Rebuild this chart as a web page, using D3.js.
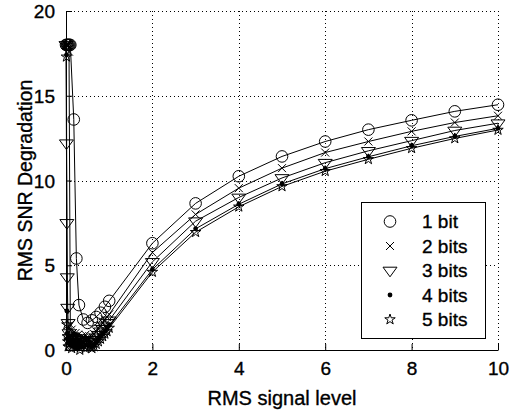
<!DOCTYPE html>
<html>
<head>
<meta charset="utf-8">
<script src="https://cdn.jsdelivr.net/npm/d3@7"></script>
<style>
  html, body { margin: 0; padding: 0; background: #fff; }
  svg { display: block; font-family: Arial, "Liberation Sans", Helvetica, sans-serif; }
  svg text { fill: #000; stroke: #000; stroke-width: 0.35px; }
</style>
</head>
<body>
<svg id="chart" width="511" height="415"></svg>
<script>
// ---------- data ----------
// 1 bit series has its own x sampling
const xValues1 = [0, 0.02, 0.04, 0.06, 0.08, 0.1, 0.18, 0.24, 0.3, 0.4, 0.5, 0.6, 0.7, 0.8, 0.9, 1,
  2, 3, 4, 5, 6, 7, 8, 9, 10];
const bits1 = [18, 18, 18, 18, 18, 18, 13.6, 5.4, 2.65, 1.8, 1.6, 1.75, 1.95, 2.2, 2.55, 2.9,
  6.3, 8.65, 10.25, 11.42, 12.3, 13.0, 13.55, 14.08, 14.47];

// 2..5 bit series share this x sampling
const xValues = [0, 0.01, 0.02, 0.03, 0.04, 0.05, 0.07, 0.1, 0.13, 0.16, 0.19, 0.22, 0.25, 0.28,
  0.32, 0.36, 0.4, 0.45, 0.5, 0.55, 0.6, 0.65, 0.7, 0.75, 0.8, 0.85, 0.9, 0.95, 1,
  2, 3, 4, 5, 6, 7, 8, 9, 10];
const bits2 = [18, 18, 18, 18, 18, 18, 17.6, 1.5, 1.2, 1.0, 0.8, 1.0, 0.7, 0.9,
  0.6, 0.8, 0.7, 0.9, 0.7, 0.8, 0.8, 0.95, 1.1, 1.3, 1.45, 1.6, 1.8, 1.95, 2.1,
  5.75, 8.0, 9.55, 10.73, 11.65, 12.3, 12.9, 13.42, 13.82];
const bits3 = [18, 12.2, 7.5, 4.3, 2.5, 1.6, 1.0, 0.7, 0.5, 0.8, 0.4, 0.6, 0.3, 0.7,
  0.5, 0.4, 0.6, 0.3, 0.5, 0.4, 0.5, 0.6, 0.75, 0.9, 1.1, 1.25, 1.4, 1.6, 1.75,
  5.2, 7.6, 9.0, 10.15, 11.05, 11.75, 12.35, 12.95, 13.38];
const bits4 = [18, 17.4, 2.3, 1.0, 0.7, 0.4, 0.8, 0.3, 0.6, 0.2, 0.5, 0.9, 0.3, 0.1,
  0.6, 0.4, 0.2, 0.7, 0.3, 0.5, 0.2, 0.3, 0.45, 0.6, 0.8, 0.95, 1.1, 1.3, 1.45,
  4.75, 7.15, 8.6, 9.8, 10.7, 11.4, 12.05, 12.6, 13.08];
const bits5 = [18, 17.3, 1.5, 0.8, 0.5, 0.2, 0.6, 0.9, 0.1, 0.4, 0.7, 0.2, 0.5, 0.3,
  0.0, 0.6, 0.3, 0.1, 0.4, 0.2, 0.1, 0.2, 0.35, 0.5, 0.65, 0.8, 0.95, 1.1, 1.3,
  4.6, 6.95, 8.45, 9.65, 10.55, 11.25, 11.9, 12.48, 12.98];

const seriesNames = ["1 bit", "2 bits", "3 bits", "4 bits", "5 bits"];
const seriesX = [xValues1, xValues, xValues, xValues, xValues];
const seriesValues = [bits1, bits2, bits3, bits4, bits5];
const markerKinds = ["circle", "x", "triangleDown", "point", "pentagram"];

const xTicks = [0, 2, 4, 6, 8, 10];
const yTicks = [0, 5, 10, 15, 20];
const xLabel = "RMS signal level";
const yLabel = "RMS SNR Degradation";

// ---------- layout ----------
const svg = d3.select("#chart");
const plotL = 66, plotR = 498, plotT = 11, plotB = 350;
const x = d3.scaleLinear().domain([0, 10]).range([plotL, plotR]);
const y = d3.scaleLinear().domain([0, 20]).range([plotB, plotT]);
const FONT = 19;

// grid (dotted)
const grid = svg.append("g").attr("stroke", "#000").attr("stroke-width", 1)
  .attr("stroke-dasharray", "1,3").attr("shape-rendering", "crispEdges");
xTicks.filter(t => t > 0).forEach(t => {
  grid.append("line").attr("x1", Math.round(x(t)) + 0.5).attr("x2", Math.round(x(t)) + 0.5)
    .attr("y1", y(20)).attr("y2", y(0));
});
yTicks.filter(t => t > 0).forEach(t => {
  grid.append("line").attr("y1", Math.round(y(t)) + 0.5).attr("y2", Math.round(y(t)) + 0.5)
    .attr("x1", x(0)).attr("x2", x(10));
});

// axes
const xAxis = d3.axisBottom(x).tickValues(xTicks).tickFormat(d3.format("d"))
  .tickSizeInner(-6).tickSizeOuter(0).tickPadding(12);
const yAxis = d3.axisLeft(y).tickValues(yTicks).tickFormat(d3.format("d"))
  .tickSizeInner(-6).tickSizeOuter(0).tickPadding(11);

const gx = svg.append("g").attr("transform", `translate(0,${plotB})`).call(xAxis);
const gy = svg.append("g").attr("transform", `translate(${plotL},0)`).call(yAxis);
[gx, gy].forEach(g => {
  g.selectAll("path,line").attr("stroke", "#000").attr("stroke-width", 1);
  g.selectAll("text").attr("fill", "#000").style("font-size", FONT + "px")
    .style("font-family", "Arial, 'Liberation Sans', sans-serif");
});
gy.selectAll("text").attr("dy", "0.35em");

// axis labels
svg.append("text").attr("x", (plotL + plotR) / 2).attr("y", 405)
  .attr("text-anchor", "middle").style("font-size", "20px").text(xLabel);
svg.append("text").attr("transform", `translate(32,${(plotT + plotB) / 2}) rotate(-90)`)
  .attr("text-anchor", "middle").style("font-size", "19.5px").text(yLabel);

// marker drawing
function drawMarker(g, kind, cx, cy) {
  if (kind === "circle") {
    g.append("circle").attr("cx", cx).attr("cy", cy).attr("r", 5.8)
      .attr("fill", "none").attr("stroke", "#000").attr("stroke-width", 1);
  } else if (kind === "x") {
    const s = 4;
    g.append("path").attr("d", `M${cx - s},${cy - s}L${cx + s},${cy + s}M${cx - s},${cy + s}L${cx + s},${cy - s}`)
      .attr("fill", "none").attr("stroke", "#000").attr("stroke-width", 1);
  } else if (kind === "triangleDown") {
    const w = 7, h = 6;
    g.append("path").attr("d", `M${cx - w},${cy - h * 0.55}L${cx + w},${cy - h * 0.55}L${cx},${cy + h * 1.05}Z`)
      .attr("fill", "none").attr("stroke", "#000").attr("stroke-width", 1);
  } else if (kind === "point") {
    g.append("circle").attr("cx", cx).attr("cy", cy).attr("r", 2.4).attr("fill", "#000");
  } else if (kind === "pentagram") {
    const R = 5.5, r = R * 0.382;
    const pts = [];
    for (let i = 0; i < 10; i++) {
      const a = -Math.PI / 2 + i * Math.PI / 5;
      const rr = i % 2 === 0 ? R : r;
      pts.push([cx + rr * Math.cos(a), cy + rr * Math.sin(a)]);
    }
    g.append("path").attr("d", "M" + pts.map(p => p.join(",")).join("L") + "Z")
      .attr("fill", "none").attr("stroke", "#000").attr("stroke-width", 1);
  }
}

// series lines and markers
const line = d3.line().x(d => x(d[0])).y(d => y(d[1]));
seriesValues.forEach((vals, si) => {
  const data = seriesX[si].map((xv, i) => [xv, vals[i]]);
  const g = svg.append("g");
  g.append("path").datum(data).attr("d", line)
    .attr("fill", "none").attr("stroke", "#000").attr("stroke-width", 1);
  data.forEach(d => drawMarker(g, markerKinds[si], x(d[0]), y(d[1])));
});

// legend
const lg = svg.append("g");
lg.append("rect").attr("x", 361.5).attr("y", 202.5).attr("width", 124).attr("height", 136)
  .attr("fill", "#fff").attr("stroke", "#000").attr("stroke-width", 1);
seriesNames.forEach((name, i) => {
  const cy = 221.5 + i * 24.5;
  drawMarker(lg, markerKinds[i], 390, cy);
  lg.append("text").attr("x", 422).attr("y", cy).attr("dy", "0.35em")
    .style("font-size", FONT + "px").text(name);
});
</script>
</body>
</html>
